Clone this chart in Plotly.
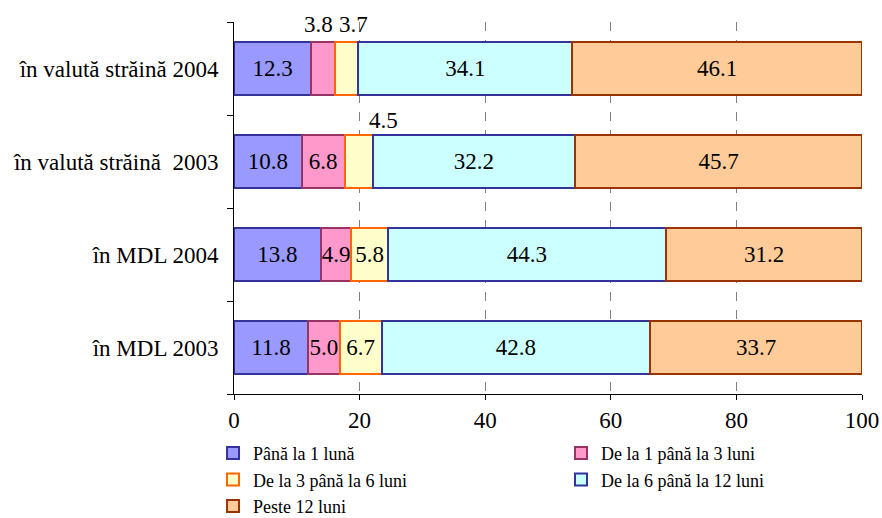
import plotly.graph_objects as go

categories = ["în MDL 2003", "în MDL 2004", "în valută străină\u00a0 2003", "în valută străină 2004"]
series_names = ["Până la 1 lună", "De la 1 până la 3 luni", "De la 3 până la 6 luni",
                "De la 6 până la 12 luni", "Peste 12 luni"]
pana_1 = [11.8, 13.8, 10.8, 12.3]
de_1_3 = [5.0, 4.9, 6.8, 3.8]
de_3_6 = [6.7, 5.8, 4.5, 3.7]
de_6_12 = [42.8, 44.3, 32.2, 34.1]
peste_12 = [33.7, 31.2, 45.7, 46.1]
x_ticks = [0, 20, 40, 60, 80, 100]

values = [pana_1, de_1_3, de_3_6, de_6_12, peste_12]
fills = ["#9999FF", "#FF99CC", "#FFFFCC", "#CCFFFF", "#FFCC99"]
borders = ["#333399", "#993366", "#FF6600", "#333399", "#993300"]
legend_column = ["legend", "legend2", "legend", "legend2", "legend"]

# labels placed above the bar (series index, category index, x offset px, y offset px)
above = [(1, 3, -5, 44), (2, 3, 7, 44), (2, 2, 25, 41)]

FONT = "Liberation Serif"
FS = 23
LFS = 18
fig = go.Figure()
for i, (name, vals) in enumerate(zip(series_names, values)):
    texts = []
    for j, v in enumerate(vals):
        if any(a[0] == i and a[1] == j for a in above):
            texts.append("")
        else:
            texts.append(f"{v:.1f}")
    fig.add_trace(go.Bar(
        y=categories, x=vals, name=name, orientation="h",
        marker=dict(color=fills[i], line=dict(color=borders[i], width=2)),
        text=texts, textposition="inside", insidetextanchor="middle",
        textangle=0, textfont=dict(family=FONT, size=FS, color="black"),
        hoverinfo="x+name", legend=legend_column[i],
    ))

for (i, j, dx, dy) in above:
    left = sum(values[k][j] for k in range(i))
    fig.add_annotation(x=left + values[i][j] / 2, y=categories[j], text=f"{values[i][j]:.1f}",
                       showarrow=False, yshift=dy, xshift=dx,
                       font=dict(family=FONT, size=FS, color="black"))

leg_common = dict(orientation="v", xanchor="left", yanchor="top", y=-0.11,
                  font=dict(family=FONT, size=LFS, color="black"),
                  traceorder="normal", itemclick=False, tracegroupgap=0,
                  bgcolor="rgba(0,0,0,0)")

fig.update_layout(
    barmode="stack", bargap=0.44,
    width=882, height=518,
    margin=dict(l=234, r=20, t=22, b=124, autoexpand=False),
    plot_bgcolor="white", paper_bgcolor="white",
    font=dict(family=FONT, size=FS, color="black"),
    uniformtext=dict(minsize=FS, mode="show"),
    legend=dict(x=-0.0334, **leg_common),
    legend2=dict(x=0.5207, **leg_common),
    showlegend=True,
)
fig.update_xaxes(range=[0, 100], tickvals=x_ticks, showgrid=True, gridcolor="#808080",
                 griddash="dash", gridwidth=1, showline=True, linecolor="black", linewidth=1,
                 ticks="outside", ticklen=5, tickcolor="black", zeroline=False,
                 automargin=False, ticklabeloverflow="allow",
                 tickfont=dict(family=FONT, size=FS))
fig.update_yaxes(categoryorder="array", categoryarray=categories, range=[-0.5, 3.5],
                 showline=True, linecolor="black", linewidth=1, ticks="outside", ticklen=6,
                 tickcolor="black", tickson="boundaries", showgrid=False,
                 automargin=False, ticklabelstandoff=10,
                 tickfont=dict(family=FONT, size=FS))
fig.write_html("out.html", config={"displayModeBar": False},
               post_script="document.body.style.margin='0';document.body.style.overflow='hidden';")
